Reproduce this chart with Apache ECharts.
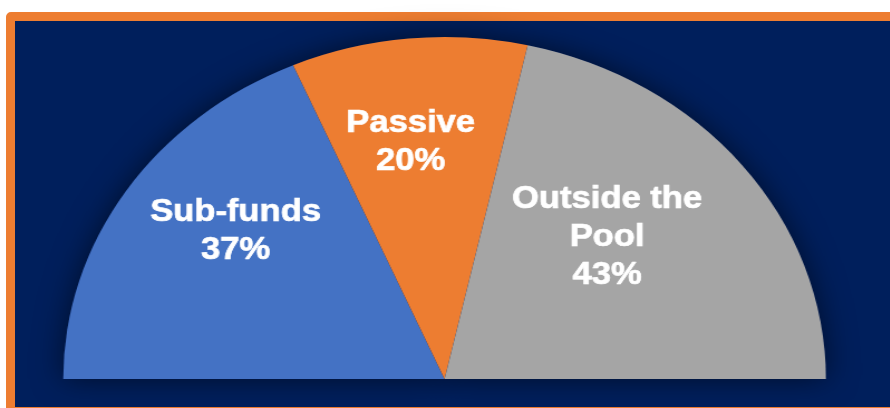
<!DOCTYPE html>
<html>
<head>
<meta charset="utf-8">
<script src="https://cdn.jsdelivr.net/npm/echarts@6/dist/echarts.min.js"></script>
<style>
  html, body { margin: 0; padding: 0; background: #ffffff; width: 890px; height: 408px; overflow: hidden; }
  #frame {
    position: absolute; left: 6px; top: 12px;
    width: 900px; height: 386px;
    border: 9px solid #ED7D31; border-radius: 5px;
    background: #001F5C;
  }
  /* the half-pie is drawn circular and widened horizontally into an ellipse */
  #chart {
    position: absolute; left: 0; top: 0;
    width: 798px; height: 408px;
    transform: scaleX(1.115); transform-origin: 0 0;
  }
</style>
</head>
<body>
<div id="frame"></div>
<div id="chart"></div>
<script>
// Share of assets by where they are managed (percent)
const categories = ['Sub-funds', 'Passive', 'Outside the\nPool'];
const shares = [37, 20, 43];
const sliceColors = ['#4472C4', '#ED7D31', '#A5A5A5'];

// nudges of each label from the slice's default inside position
const labelShift = [[-42, -52], [-14, -63], [10, -33]];

const chart = echarts.init(document.getElementById('chart'));

const slices = categories.map((name, i) => ({
  name: name,
  value: shares[i],
  itemStyle: { color: sliceColors[i] }
}));

const common = {
  type: 'pie',
  center: [398.7, 379],
  radius: 342,
  startAngle: 180,
  endAngle: 0,
  clockwise: true,
  animation: false,
  silent: true
};

chart.setOption({
  backgroundColor: 'transparent',
  series: [
    // soft shadow under the whole half-disc
    Object.assign({}, common, {
      z: 1,
      data: shares.map(v => ({ value: v })),
      itemStyle: {
        color: '#001F5C',
        shadowBlur: 28,
        shadowColor: 'rgba(0,0,0,0.55)',
        borderWidth: 0
      },
      label: { show: false },
      labelLine: { show: false }
    }),
    Object.assign({}, common, {
      z: 2,
      data: slices,
      itemStyle: { borderWidth: 0 },
      label: {
        show: true,
        position: 'inside',
        formatter: p => p.name + '\n' + p.value + '%',
        color: '#ffffff',
        fontFamily: '"Liberation Sans", Arial, sans-serif',
        fontWeight: 'bold',
        fontSize: 31,
        lineHeight: 38,
        textBorderColor: '#ffffff',
        textBorderWidth: 0.7,
        align: 'center'
      },
      labelLine: { show: false },
      labelLayout: p => ({ dx: labelShift[p.dataIndex][0], dy: labelShift[p.dataIndex][1] })
    })
  ]
});
</script>
</body>
</html>
